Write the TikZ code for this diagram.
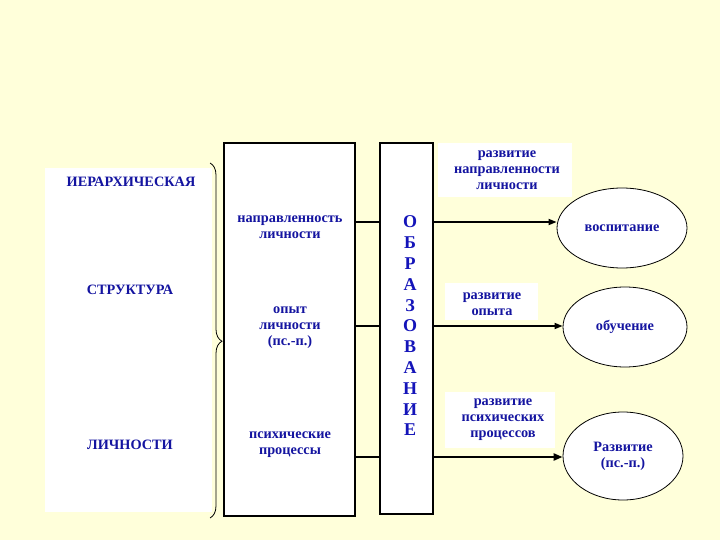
\documentclass[tikz,border=0pt]{standalone}
\usepackage{fontspec}
\setmainfont{Liberation Serif}
\usetikzlibrary{shapes.geometric,arrows.meta,decorations.pathreplacing}
\definecolor{bgyellow}{RGB}{255,255,218}
\definecolor{txtblue}{RGB}{20,20,160}
\definecolor{vblue}{RGB}{20,20,185}
\tikzset{
  panel/.style={fill=white,draw=none,inner sep=0pt},
  bigbox/.style={fill=white,draw=black,line width=1.2pt,inner sep=0pt},
  lbl/.style={fill=white,draw=none,inner sep=0pt},
  oval/.style={ellipse,fill=white,draw=black,line width=0.8pt,inner sep=0pt},
  txt/.style={text=txtblue,font=\bfseries\fontsize{14.3}{16}\selectfont,align=center,inner sep=0pt},
  captxt/.style={text=txtblue,font=\bfseries\fontsize{14.3}{16}\selectfont,inner sep=0pt},
  vtxt/.style={text=vblue,font=\bfseries\fontsize{18}{20.8}\selectfont,align=center,inner sep=0pt},
  conn/.style={line width=2.2pt},
  arr/.style={line width=1.6pt,-{Triangle[length=8pt,width=6pt]}},
  thickarr/.style={line width=2.8pt,-{Triangle[length=9pt,width=7pt]}}
}
\begin{document}
\begin{tikzpicture}[x=1pt,y=-1pt]
\fill[bgyellow] (0,0) rectangle (720,540);
\useasboundingbox (0,0) rectangle (720,540);
% left panel
\node[panel,minimum width=167pt,minimum height=344pt] (lp) at (128.5,340) {};
\node[captxt] (h1) at (131,182) {ИЕРАРХИЧЕСКАЯ};
\node[captxt] (h2) at (130,290) {СТРУКТУРА};
\node[captxt] (h3) at (130,445) {ЛИЧНОСТИ};
% brace
\coordinate (bt) at (210,163);
\coordinate (bb) at (210,518);
\draw[line width=0.8pt,decorate,decoration={brace,amplitude=12pt,aspect=0.502}] (bt) -- (bb);
% boxes
\node[bigbox,minimum width=131pt,minimum height=373pt] (b1) at (289.5,329.5) {};
\node[bigbox,minimum width=53pt,minimum height=371pt] (b2) at (406.5,328.5) {};
\node[txt] (t1) at (290,227) {направленность\\личности};
\node[txt] (t2) at (290,328) {опыт\\личности\\(пс.-п.)};
\node[txt] (t3) at (290,445) {психические\\процессы};
\node[vtxt] (ob) at (410,326) {О\\Б\\Р\\А\\З\\О\\В\\А\\Н\\И\\Е};
% rows
\coordinate (r1) at (0,222);
\coordinate (r2) at (0,326);
\coordinate (r3) at (0,457);
\draw[conn] (b1.east |- r1) -- (b2.west |- r1);
\draw[conn] (b1.east |- r2) -- (b2.west |- r2);
\draw[conn] (b1.east |- r3) -- (b2.west |- r3);
% label boxes
\node[lbl,minimum width=134pt,minimum height=54pt] (l1) at (505,170) {};
\node[txt] (lt1) at (507,170) {развитие\\направленности\\личности};
\node[lbl,minimum width=93pt,minimum height=37pt] (l2) at (491.5,301.5) {};
\node[txt] (lt2) at (492,304) {развитие\\опыта};
\node[lbl,minimum width=110pt,minimum height=56pt] (l3) at (500,420) {};
\node[txt] (lt3) at (503,420) {развитие\\психических\\процессов};
% ellipses
\node[oval,minimum width=130pt,minimum height=80pt] (e1) at (622,228) {};
\node[txt] at (e1) {воспитание};
\node[oval,minimum width=124pt,minimum height=80pt] (e2) at (625,327) {};
\node[txt] at (e2) {обучение};
\node[oval,minimum width=120pt,minimum height=88pt] (e3) at (623,456) {};
\node[txt] at (e3) {Развитие\\(пс.-п.)};
% arrows
\draw[arr] (b2.east |- r1) -- (e1.west |- r1);
\draw[arr] (b2.east |- r2) -- (e2.west |- r2);
\draw[thickarr] (b2.east |- r3) -- (e3.west |- r3);
\end{tikzpicture}
\end{document}
